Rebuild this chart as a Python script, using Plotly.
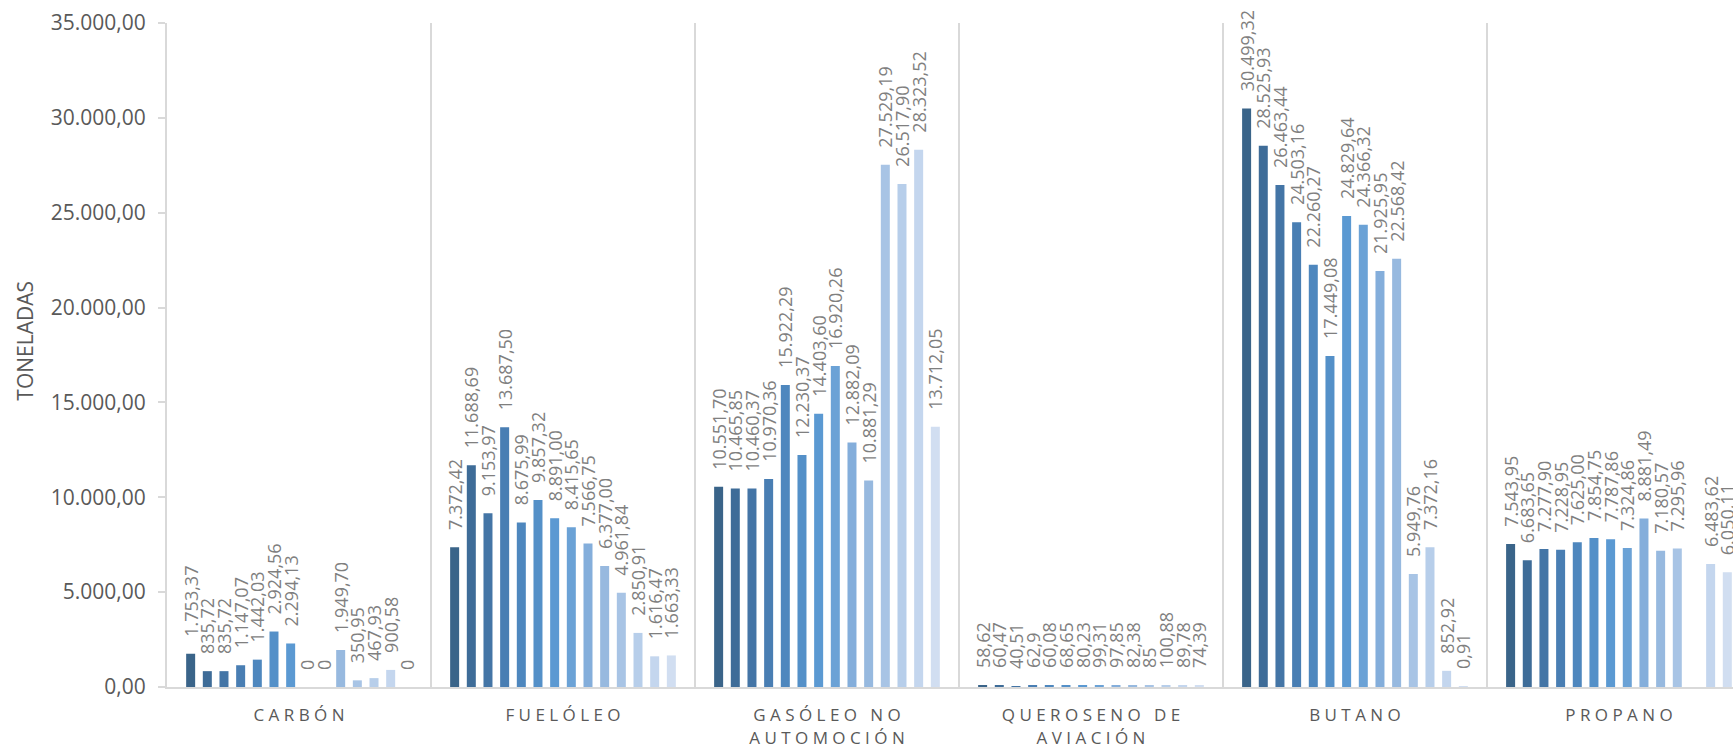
import plotly.graph_objects as go

# Fuel categories shown on the x axis
categories = ["CARBÓN", "FUELÓLEO", "GASÓLEO NO AUTOMOCIÓN",
              "QUEROSENO DE AVIACIÓN", "BUTANO", "PROPANO"]
# Tick text, broken over two lines where the label is long
tick_lines = [["CARBÓN"], ["FUELÓLEO"], ["GASÓLEO NO", "AUTOMOCIÓN"],
              ["QUEROSENO DE", "AVIACIÓN"], ["BUTANO"], ["PROPANO"]]

# Tonnes per category for each of the 14 series (one list per category)
carbon = [1753.37, 835.72, 835.72, 1147.07, 1442.03, 2924.56, 2294.13,
          0, 0, 1949.70, 350.95, 467.93, 900.58, 0]
fueloleo = [7372.42, 11688.69, 9153.97, 13687.50, 8675.99, 9857.32, 8891.00,
            8415.65, 7566.75, 6377.00, 4961.84, 2850.91, 1616.47, 1663.33]
gasoleo = [10551.70, 10465.85, 10460.37, 10970.36, 15922.29, 12230.37, 14403.60,
           16920.26, 12882.09, 10881.29, 27529.19, 26517.90, 28323.52, 13712.05]
queroseno = [58.62, 60.47, 40.51, 62.9, 60.08, 68.65, 80.23,
             99.31, 97.85, 82.38, 85, 100.88, 89.78, 74.39]
butano = [30499.32, 28525.93, 26463.44, 24503.16, 22260.27, 17449.08, 24829.64,
          24366.32, 21925.95, 22568.42, 5949.76, 7372.16, 852.92, 0.91]
propano = [7543.95, 6683.65, 7277.90, 7228.95, 7625.00, 7854.75, 7787.86,
           7324.86, 8881.49, 7180.57, 7295.96, None, 6483.62, 6050.11]

# Queroseno values are labelled in general number format (no fixed decimals)
general_format = [False, False, False, True, False, False]

series_names = [f"Serie {i}" for i in range(1, 15)]

# Monochrome blue ramp, dark to light
colors = ["#3A6489", "#3E6C98", "#4475A6", "#497EB3", "#4E87BE", "#5490C8",
          "#5B99D2", "#6BA2D6", "#84AEDB", "#97B9DF", "#A8C4E5", "#B7CEEA",
          "#C4D6EE", "#D1DEF1"]

TEXT = "#595959"
LABEL = "#7F7F7F"
LINE = "#D9D9D9"
FONT = "Open Sans"


def es_number(v, general):
    """Spanish number formatting: '.' for thousands, ',' for decimals."""
    if v == 0:
        return "0"
    if general:
        s = f"{v:.2f}".rstrip("0").rstrip(".")
    else:
        s = f"{v:,.2f}"
    return s.replace(",", "X").replace(".", ",").replace("X", ".")


def spaced(word_line):
    words = word_line.split(" ")
    return " \u00a0 ".join(" ".join(list(w)) for w in words)


table = [carbon, fueloleo, gasoleo, queroseno, butano, propano]
pad = "\u00a0\u00a0\u00a0"

fig = go.Figure()
for s, name in enumerate(series_names):
    ys = [row[s] for row in table]
    texts = ["" if v is None else pad + es_number(v, general_format[c])
             for c, v in enumerate(ys)]
    fig.add_trace(go.Bar(
        x=categories, y=ys, name=name,
        marker=dict(color=colors[s], line=dict(width=0)),
        text=texts, textposition="outside", textangle=-90,
        textfont=dict(family=FONT, size=18, color=LABEL),
        constraintext="none", cliponaxis=False,
    ))

ticktext = ["<br>".join(spaced(l) for l in lines) for lines in tick_lines]

fig.update_layout(
    width=1733, height=751,
    margin=dict(l=167, r=0, t=23, b=64),
    paper_bgcolor="white", plot_bgcolor="white",
    barmode="group", bargap=0.116, bargroupgap=0.46,
    showlegend=False,
    separators=",.",
    font=dict(family=FONT, color=TEXT),
    xaxis=dict(
        type="category", range=[-0.5, 5.432],
        tickmode="array", tickvals=categories, ticktext=ticktext,
        tickfont=dict(family=FONT, size=17, color=TEXT),
        showgrid=True, gridcolor=LINE, gridwidth=2, tickson="boundaries",
        showline=True, linecolor=LINE, linewidth=2,
        ticks="", ticklabelstandoff=12, zeroline=False,
    ),
    yaxis=dict(
        range=[0, 35000], tickmode="array",
        tickvals=[0, 5000, 10000, 15000, 20000, 25000, 30000, 35000],
        tickformat=",.2f",
        tickfont=dict(family=FONT, size=21, color=TEXT),
        showgrid=False, zeroline=False,
        showline=True, linecolor=LINE, linewidth=2,
        ticks="outside", ticklen=7, tickcolor=LINE, tickwidth=2,
        ticklabelstandoff=8,
    ),
    annotations=[dict(
        text="TONELADAS", xref="paper", yref="paper",
        x=-0.0905, y=0.522, xanchor="center", yanchor="middle",
        textangle=-90, showarrow=False,
        font=dict(family=FONT, size=21, color=TEXT),
    )],
)

fig.write_html("out.html")
